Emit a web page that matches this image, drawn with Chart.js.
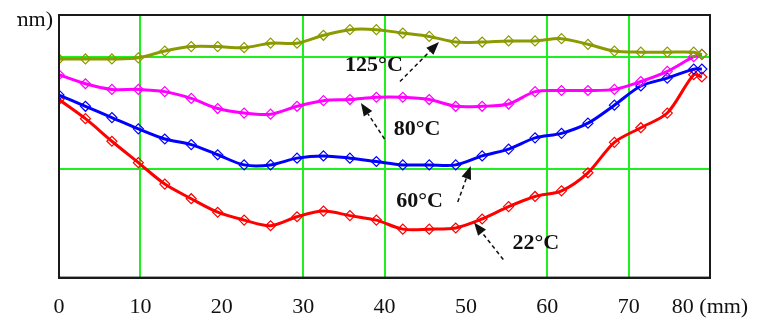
<!DOCTYPE html>
<html lang="en">
<head>
    <meta charset="UTF-8">
    <title>Deflection profiles</title>
    <script src="https://cdn.jsdelivr.net/npm/chart.js"></script>
    <style>
        body { margin: 0; background: #fff; }
        #wrap { width: 760px; height: 320px; }
    </style>
</head>
<body>
    <div id="wrap"><canvas id="profileChart" width="760" height="320"></canvas></div>

    <script>
        // position along the part (mm)
        const xs = [0, 3.25, 6.5, 9.75, 13, 16.25, 19.5, 22.75, 26, 29.25, 32.5, 35.75, 39,
                    42.25, 45.5, 48.75, 52, 55.25, 58.5, 61.75, 65, 68.25, 71.5, 74.75, 78, 79];

        // profile height, arbitrary units (green lines sit at 1 and 2)
        const t125 = [1.98, 1.98, 1.98, 1.99, 2.05, 2.09, 2.09, 2.08, 2.12, 2.12, 2.19, 2.24, 2.24,
                      2.21, 2.18, 2.13, 2.13, 2.14, 2.14, 2.16, 2.11, 2.05, 2.04, 2.04, 2.04, 2.02];
        const t80 = [1.84, 1.76, 1.71, 1.71, 1.69, 1.63, 1.54, 1.50, 1.49, 1.56, 1.61, 1.62, 1.64,
                     1.64, 1.62, 1.56, 1.56, 1.58, 1.69, 1.70, 1.70, 1.71, 1.78, 1.87, 2.00, 2.02];
        const t60 = [1.66, 1.56, 1.46, 1.36, 1.27, 1.22, 1.13, 1.04, 1.04, 1.10, 1.12, 1.10, 1.07,
                     1.04, 1.04, 1.04, 1.12, 1.18, 1.28, 1.32, 1.41, 1.57, 1.74, 1.81, 1.89, 1.89];
        const t22 = [1.62, 1.45, 1.25, 1.06, 0.87, 0.74, 0.62, 0.55, 0.50, 0.58, 0.63, 0.59, 0.55,
                     0.47, 0.47, 0.48, 0.56, 0.67, 0.76, 0.81, 0.97, 1.24, 1.37, 1.50, 1.84, 1.82];

        const xTicks = [0, 10, 20, 30, 40, 50, 60, 70, 80];
        const xGridAt = [10, 30, 40, 60, 70];
        const yGridAt = [1, 2];

        // temperature labels: text position and arrow tail -> head, in data units
        const labels = ['125°C', '80°C', '60°C', '22°C'];
        const labelPos = [[38.7, 1.92], [44.0, 1.36], [44.3, 0.72], [58.6, 0.34]];
        const arrowFrom = [[41.9, 1.78], [40.0, 1.27], [49.0, 0.71], [54.6, 0.20]];
        const arrowTo = [[46.7, 2.13], [37.1, 1.59], [50.6, 1.03], [51.0, 0.53]];

        const green = '#1fee1f';

        function series(ys) {
            return xs.map((x, i) => ({ x: x, y: ys[i] }));
        }

        function makeSet(label, ys, color) {
            return {
                label: label,
                data: series(ys),
                borderColor: color,
                borderWidth: 3,
                tension: 0.3,
                pointStyle: 'rectRot',
                pointRadius: 5,
                pointBorderWidth: 1.2,
                pointBorderColor: color,
                pointBackgroundColor: 'rgba(0,0,0,0)'
            };
        }

        const annotate = {
            id: 'annotate',
            afterDraw(chart) {
                const c = chart.ctx;
                const sx = chart.scales.x, sy = chart.scales.y;
                const a = chart.chartArea;

                // frame
                c.save();
                c.strokeStyle = '#1a1a1a';
                c.lineWidth = 2;
                c.strokeRect(a.left, a.top, a.right - a.left, a.bottom - a.top);
                c.restore();

                // arrows
                for (let i = 0; i < labels.length; i++) {
                    const x0 = sx.getPixelForValue(arrowFrom[i][0]);
                    const y0 = sy.getPixelForValue(arrowFrom[i][1]);
                    const x1 = sx.getPixelForValue(arrowTo[i][0]);
                    const y1 = sy.getPixelForValue(arrowTo[i][1]);
                    const ang = Math.atan2(y1 - y0, x1 - x0);
                    const hl = 13, hw = 5;
                    const bx = x1 - hl * Math.cos(ang), by = y1 - hl * Math.sin(ang);
                    c.save();
                    c.strokeStyle = '#111';
                    c.fillStyle = '#111';
                    c.lineWidth = 1.5;
                    c.setLineDash([4, 3]);
                    c.beginPath();
                    c.moveTo(x0, y0);
                    c.lineTo(bx, by);
                    c.stroke();
                    c.setLineDash([]);
                    c.beginPath();
                    c.moveTo(x1, y1);
                    c.lineTo(bx + hw * Math.sin(ang), by - hw * Math.cos(ang));
                    c.lineTo(bx - hw * Math.sin(ang), by + hw * Math.cos(ang));
                    c.closePath();
                    c.fill();
                    c.restore();

                    c.save();
                    c.font = 'bold 22px "Liberation Serif", "DejaVu Serif", serif';
                    c.fillStyle = '#111';
                    c.textAlign = 'center';
                    c.textBaseline = 'middle';
                    c.fillText(labels[i], sx.getPixelForValue(labelPos[i][0]), sy.getPixelForValue(labelPos[i][1]));
                    c.restore();
                }

                // y unit, cut at the left edge like the scan
                c.save();
                c.beginPath();
                c.rect(17, 0, 60, 40);
                c.clip();
                c.font = '22px "Liberation Serif", serif';
                c.fillStyle = '#111';
                c.textAlign = 'right';
                c.textBaseline = 'middle';
                c.fillText('(mm)', 53, 20);
                c.restore();
            }
        };

        const ctx = document.getElementById('profileChart').getContext('2d');
        const profileChart = new Chart(ctx, {
            type: 'line',
            data: {
                datasets: [
                    makeSet('125°C', t125, '#8a9a00'),
                    makeSet('80°C', t80, '#ff00ff'),
                    makeSet('60°C', t60, '#0000ff'),
                    makeSet('22°C', t22, '#ff0000')
                ]
            },
            options: {
                responsive: false,
                animation: false,
                layout: { padding: { left: 59, right: 50, top: 15, bottom: -16 } },
                plugins: {
                    legend: { display: false },
                    tooltip: { enabled: false }
                },
                scales: {
                    x: {
                        type: 'linear',
                        min: 0,
                        max: 80,
                        afterBuildTicks: (axis) => { axis.ticks = xTicks.map(v => ({ value: v })); },
                        afterFit: (axis) => { axis.paddingRight = 0; },
                        grid: {
                            color: (c) => (c.tick && xGridAt.includes(c.tick.value)) ? green : 'rgba(0,0,0,0)',
                            lineWidth: 2,
                            drawTicks: false
                        },
                        border: { color: '#1a1a1a', width: 2 },
                        ticks: {
                            padding: 16,
                            color: '#111',
                            maxRotation: 0,
                            font: { family: '"Liberation Serif", serif', size: 22 },
                            callback: (v) => v === 80 ? '80 (mm)' : String(v)
                        }
                    },
                    y: {
                        min: 0.04,
                        max: 2.37,
                        afterBuildTicks: (axis) => { axis.ticks = yGridAt.map(v => ({ value: v })); },
                        grid: { color: green, lineWidth: 2, drawTicks: false },
                        border: { color: '#1a1a1a', width: 2 },
                        ticks: { display: false }
                    }
                }
            },
            plugins: [annotate]
        });
    </script>
</body>
</html>
